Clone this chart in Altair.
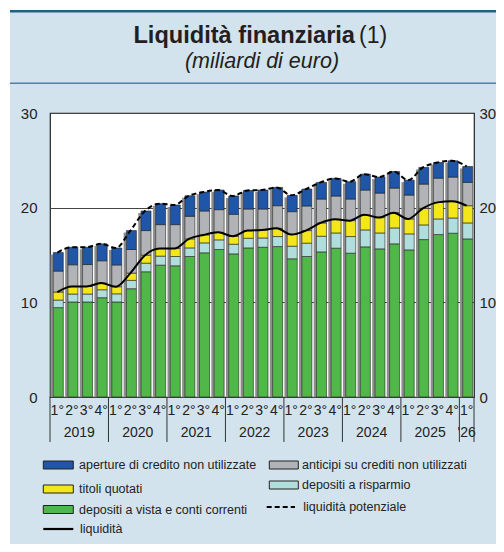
import altair as alt
import pandas as pd

FONT = "Liberation Sans"

# ---------------- data ----------------
years = ["2019", "2020", "2021", "2022", "2023", "2024", "2025"]
periods = [f"{y}-{q}" for y in years for q in (1, 2, 3, 4)] + ["2026-1"]
quarter_labels = ["1°", "2°", "3°", "4°"] * 7 + ["1°"]

depositi_vista = [9.44, 10.04, 10.04, 10.49, 10.04, 11.44, 13.23, 13.93, 13.86, 14.84,
                  15.23, 15.58, 15.12, 15.75, 15.82, 15.89, 14.60, 14.84, 15.33, 15.72,
                  15.19, 15.86, 15.65, 16.18, 15.54, 16.63, 17.16, 17.30, 16.70]
depositi_risparmio = [0.80, 0.84, 0.84, 0.84, 0.86, 0.88, 0.91, 0.95, 0.98, 0.91,
                      1.05, 1.02, 1.02, 1.02, 0.98, 1.06, 1.33, 1.41, 1.65, 1.61,
                      1.76, 1.79, 1.68, 1.68, 1.69, 1.55, 1.65, 1.61, 1.69]
titoli_quotati = [0.85, 0.80, 0.80, 0.70, 0.75, 0.77, 0.84, 0.80, 0.84, 0.95,
                  0.84, 0.80, 0.84, 0.81, 0.85, 0.87, 1.23, 1.33, 1.41, 1.44,
                  1.68, 1.61, 1.62, 1.61, 1.58, 1.75, 1.75, 1.76, 1.82]
anticipi = [2.21, 2.29, 2.31, 2.36, 2.30, 2.49, 2.60, 2.53, 2.53, 2.39,
            2.53, 2.39, 2.32, 2.28, 2.21, 2.39, 2.42, 2.60, 2.52, 2.46,
            2.28, 2.60, 2.59, 2.60, 2.52, 2.56, 2.56, 2.56, 2.46]
aperture = [1.96, 1.85, 1.83, 1.79, 1.79, 2.00, 2.07, 2.21, 2.07, 2.17,
            2.00, 2.07, 1.93, 1.96, 2.00, 1.93, 1.72, 1.78, 1.76, 1.86,
            1.83, 1.68, 1.69, 1.75, 1.58, 1.76, 1.65, 1.72, 1.68]

series_names = ["depositi a vista e conti correnti", "depositi a risparmio", "titoli quotati",
                "anticipi su crediti non utilizzati", "aperture di credito non utilizzate"]
series_values = [depositi_vista, depositi_risparmio, titoli_quotati, anticipi, aperture]
series_colors = ["#50B848", "#B0DEDC", "#F3E71B", "#B1B3B6", "#1F56A8"]

year_labels = years + ["'26"]

# ---------------- tables ----------------
rows = []
for k, (name, vals) in enumerate(zip(series_names, series_values)):
    for p, v in zip(periods, vals):
        rows.append({"per": p, "serie": name, "valore": v, "ordine": k})
long_df = pd.DataFrame(rows)

wide_df = pd.DataFrame({"per": periods, "q": quarter_labels})
for name, vals in zip(series_names, series_values):
    wide_df[name] = vals
wide_df["liquidita"] = wide_df[series_names[0]] + wide_df[series_names[1]] + wide_df[series_names[2]]
wide_df["potenziale"] = wide_df[series_names].sum(axis=1)

W, H = 424, 284
PAD_R = 22
xscale = alt.Scale(domain=periods, type="band", paddingInner=0, paddingOuter=0)
yscale = alt.Scale(domain=[0, 30], nice=False)

x_axis = alt.Axis(title=None, grid=True, gridColor="#333333", gridWidth=1, tickBand="extent",
                  ticks=False, domain=False, labels=False)
y_left = alt.Axis(title=None, values=[0, 10, 20, 30], grid=True, gridColor="#444444",
                  ticks=False, domain=False, labelPadding=13, labelFontSize=15,
                  labelColor="#222222", labelFont=FONT)
y_right = alt.Axis(title=None, values=[0, 10, 20, 30], grid=False, orient="right",
                   ticks=False, domain=False, labelPadding=5, labelFontSize=15,
                   labelColor="#222222", labelFont=FONT)

shadow = alt.Chart(wide_df).mark_bar(width=3, xOffset=-5.3, yOffset=2, color="#8E8E8E", clip=True).encode(
    x=alt.X("per:O", scale=xscale, axis=x_axis, sort=periods),
    y=alt.Y("potenziale:Q", scale=yscale, axis=y_left),
)

bars = alt.Chart(long_df).mark_bar(width=10, xOffset=1.0, stroke="#222222", strokeWidth=0.6).encode(
    x=alt.X("per:O", scale=xscale, axis=None, sort=periods),
    y=alt.Y("valore:Q", stack="zero", scale=yscale, axis=y_right),
    fill=alt.Fill("serie:N", scale=alt.Scale(domain=series_names, range=series_colors), legend=None),
    order=alt.Order("ordine:Q", sort="ascending"),
)

line_liq = alt.Chart(wide_df).mark_line(color="black", strokeWidth=2, interpolate="monotone").encode(
    x=alt.X("per:O", scale=xscale, axis=None, sort=periods),
    y=alt.Y("liquidita:Q", scale=yscale, axis=None),
)
line_pot = alt.Chart(wide_df).mark_line(color="black", strokeWidth=2, strokeDash=[5, 3],
                                        interpolate="monotone").encode(
    x=alt.X("per:O", scale=xscale, axis=None, sort=periods),
    y=alt.Y("potenziale:Q", scale=yscale, axis=None),
)

# quarter labels
q_text = alt.Chart(wide_df).mark_text(fontSize=14, font=FONT, color="#222222", baseline="alphabetic").encode(
    x=alt.X("per:O", scale=xscale, axis=None, sort=periods),
    y=alt.value(H + 18), text="q:N")

# year labels and separators
yl_df = pd.DataFrame({"per": [f"{y}-2" for y in years], "label": years})
year_text = alt.Chart(yl_df).mark_text(fontSize=14, font=FONT, color="#222222", baseline="alphabetic").encode(
    x=alt.X("per:O", scale=xscale, axis=None, bandPosition=1, sort=periods),
    y=alt.value(H + 40.3), text="label:N")
last_text = alt.Chart(pd.DataFrame({"per": ["2026-1"], "label": [year_labels[-1]]})).mark_text(
    fontSize=14, font=FONT, color="#222222", baseline="alphabetic").encode(
    x=alt.X("per:O", scale=xscale, axis=None, sort=periods),
    y=alt.value(H + 40.3), text="label:N")
sep_df = pd.DataFrame({"per": [f"{y}-1" for y in years] + ["2026-1"]})
seps = alt.Chart(sep_df).mark_rule(color="#333333", strokeWidth=1).encode(
    x=alt.X("per:O", scale=xscale, axis=None, bandPosition=0, sort=periods),
    y=alt.value(H), y2=alt.value(H + 45))
sep_end = alt.Chart(pd.DataFrame({"per": ["2026-1"]})).mark_rule(color="#333333", strokeWidth=1).encode(
    x=alt.X("per:O", scale=xscale, axis=None, bandPosition=1, sort=periods),
    y=alt.value(H), y2=alt.value(H + 45))

one = alt.Data(values=[{"a": 1}])

deco = []
# white strips (outside panel) and header lines
deco.append(alt.Chart(one).mark_rect(color="white").encode(
    x=alt.value(-42), x2=alt.value(W + PAD_R), y=alt.value(-105), y2=alt.value(-103)))
deco.append(alt.Chart(one).mark_rect(color="white").encode(
    x=alt.value(-42), x2=alt.value(-40), y=alt.value(-105), y2=alt.value(H + 147)))
deco.append(alt.Chart(one).mark_rule(color="#1C6385", strokeWidth=2.5).encode(
    x=alt.value(-40), x2=alt.value(W + PAD_R), y=alt.value(-101.8)))
deco.append(alt.Chart(one).mark_rule(color="#3D89A8", strokeWidth=1.6).encode(
    x=alt.value(-40), x2=alt.value(W + PAD_R), y=alt.value(-29.8)))
# titles
deco.append(alt.Chart(one).mark_text(text="Liquidità finanziaria", font=FONT, fontSize=23.6, fontWeight="bold",
                                     align="right", baseline="alphabetic", color="#231F20").encode(
    x=alt.value(305), y=alt.value(-69.7)))
deco.append(alt.Chart(one).mark_text(text="(1)", font=FONT, fontSize=23, align="left",
                                     baseline="alphabetic", color="#231F20").encode(
    x=alt.value(309), y=alt.value(-69.7)))
deco.append(alt.Chart(one).mark_text(text="(miliardi di euro)", font=FONT, fontSize=21.5, fontStyle="italic",
                                     align="center", baseline="alphabetic", color="#231F20").encode(
    x=alt.value(W / 2), y=alt.value(-44.7)))

# legend (layout positions)
col1_sym, col1_txt = (-6.7, 23.3), 29
col2_sym, col2_txt = (219.3, 248.3), 252
legend_rects = [
    (series_names[4], series_colors[4], col1_sym, col1_txt, 352),
    (series_names[3], series_colors[3], col2_sym, col2_txt, 352),
    (series_names[2], series_colors[2], col1_sym, col1_txt, 376),
    (series_names[1], series_colors[1], col2_sym, col2_txt, 372),
    (series_names[0], series_colors[0], col1_sym, col1_txt, 396.5),
]
for name, col, (sx0, sx1), tx, cy in legend_rects:
    deco.append(alt.Chart(one).mark_rect(fill=col, stroke="#222222", strokeWidth=1).encode(
        x=alt.value(sx0), x2=alt.value(sx1), y=alt.value(cy - 4), y2=alt.value(cy + 4)))
    deco.append(alt.Chart(one).mark_text(text=name, font=FONT, fontSize=12.5, align="left",
                                         baseline="middle", color="#222222").encode(
        x=alt.value(tx), y=alt.value(cy)))
legend_lines = [
    ("liquidità potenziale", [5, 3], (216.7, 245), 253.3, 394),
    ("liquidità", None, (-6.7, 23.3), 30, 416),
]
for name, dash, (sx0, sx1), tx, cy in legend_lines:
    kw = {"strokeDash": dash} if dash else {}
    deco.append(alt.Chart(one).mark_rule(color="black", strokeWidth=2.2, **kw).encode(
        x=alt.value(sx0), x2=alt.value(sx1), y=alt.value(cy)))
    deco.append(alt.Chart(one).mark_text(text=name, font=FONT, fontSize=12.5, align="left",
                                         baseline="middle", color="#222222").encode(
        x=alt.value(tx), y=alt.value(cy)))

chart = alt.layer(shadow, bars, line_liq, line_pot, q_text, year_text, last_text, seps, sep_end,
                  *deco).resolve_axis(
    y="independent"
).properties(
    width=W, height=H,
    padding={"left": 42, "top": 105, "right": PAD_R, "bottom": 147},
    autosize=alt.AutoSizeParams(type="none"),
).configure(background="#D2E3ED").configure_view(fill="white", stroke="#222222", strokeWidth=1.2)

chart.save("out.html", embed_options={"renderer": "svg", "actions": False})
